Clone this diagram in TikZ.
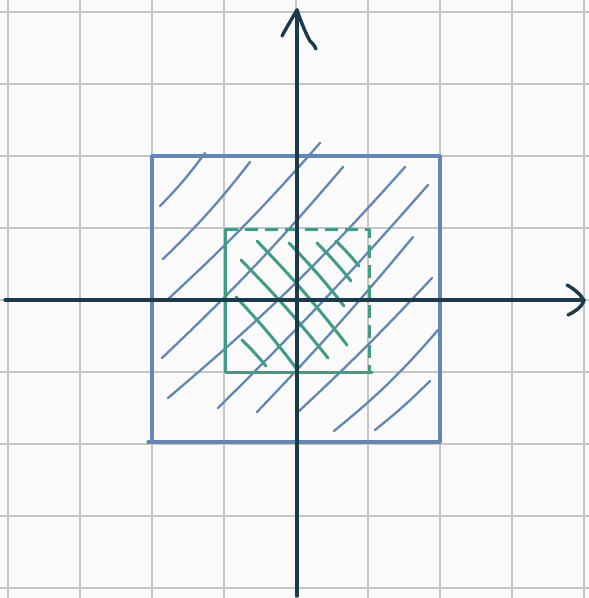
\documentclass[tikz,border=0pt]{standalone}
\definecolor{bgc}{HTML}{FBFBFB}
\definecolor{gridc}{HTML}{C6C6C6}
\definecolor{axisc}{HTML}{1B3A4B}
\definecolor{bluec}{HTML}{6187B8}
\definecolor{greenc}{HTML}{3F9C85}
\begin{document}
\begin{tikzpicture}[x=1pt,y=-1pt,line cap=round,line join=round,
  gridline/.style={gridc,line width=1.2pt,line cap=butt},
  axisline/.style={axisc,line width=3.2pt},
  arrowstroke/.style={axisc,line width=3.4pt},
  bluebox/.style={bluec,line width=3.2pt},
  bluehatch/.style={bluec,line width=2.3pt},
  greenbox/.style={greenc,line width=3pt},
  greendash/.style={greenc,line width=3pt,dash pattern=on 13pt off 7pt,line cap=butt},
  greenhatch/.style={greenc,line width=3pt}]
\fill[bgc] (0,0) rectangle (589,598);
\useasboundingbox (0,0) rectangle (589,598);
% grid
\foreach \x in {8,80,152,224,296,368,440,512,584} \draw[gridline] (\x,0) -- (\x,598);
\foreach \y in {12,84,156,228,300,372,444,516,588} \draw[gridline] (0,\y) -- (589,\y);
% blue square
\coordinate (b1) at (152,156);
\coordinate (b2) at (440,156);
\coordinate (b3) at (440,442);
\coordinate (b4) at (148,442);
\draw[bluebox] (b1) -- (b2) -- (b3) -- (b4);
\draw[bluebox] (b1) -- (152,442);
% blue hatching
\draw[bluehatch] (160,206) to[bend right=4] (205,153);
\draw[bluehatch] (163,259) to[bend right=4] (250,162);
\draw[bluehatch] (166,301) to[bend right=3] (320,143);
\draw[bluehatch] (162,358) to[bend right=3] (343,167);
\draw[bluehatch] (168,398) to[bend right=4] (405,167);
\draw[bluehatch] (218,408) to[bend right=2] (428,185);
\draw[bluehatch] (257,412) to[bend right=2] (413,237);
\draw[bluehatch] (298,412) to[bend right=2] (432,278);
\draw[bluehatch] (334,431) to[bend right=5] (438,330);
\draw[bluehatch] (375,430) to[bend right=3] (430,381);
% green square
\coordinate (g1) at (225,229);
\coordinate (g2) at (369,229);
\coordinate (g3) at (369,372);
\coordinate (g4) at (225,372);
\draw[greenbox] (g1) -- (g4) -- (372,372);
\draw[greendash] (g1) -- (g2) -- (g3);
% green hatching
\draw[greenhatch] (336,241) to[bend left=3] (359,266);
\draw[greenhatch] (317,243) to[bend left=3] (351,281);
\draw[greenhatch] (289,243) to[bend left=3] (344,306);
\draw[greenhatch] (257,241) to[bend left=3] (347,345);
\draw[greenhatch] (241,260) to[bend left=3] (328,358);
\draw[greenhatch] (236,297) to[bend left=3] (296,368);
\draw[greenhatch] (242,340) to[bend left=3] (266,366);
% axes
\coordinate (xl) at (5,300);
\coordinate (xr) at (584,300);
\coordinate (yb) at (297,596);
\coordinate (yt) at (297,10);
\draw[axisline] (xl) -- (xr);
\draw[axisline] (yb) -- (yt);
\draw[arrowstroke] (567,285) .. controls (576,290) and (582,296) .. (584,301)
  .. controls (581,308) and (574,312) .. (568,315);
\draw[arrowstroke] (282,36) .. controls (288,25) and (294,15) .. (297,10)
  .. controls (301,22) and (306,34) .. (310,41) .. controls (313,44) and (315,46) .. (316,49);
\end{tikzpicture}
\end{document}
